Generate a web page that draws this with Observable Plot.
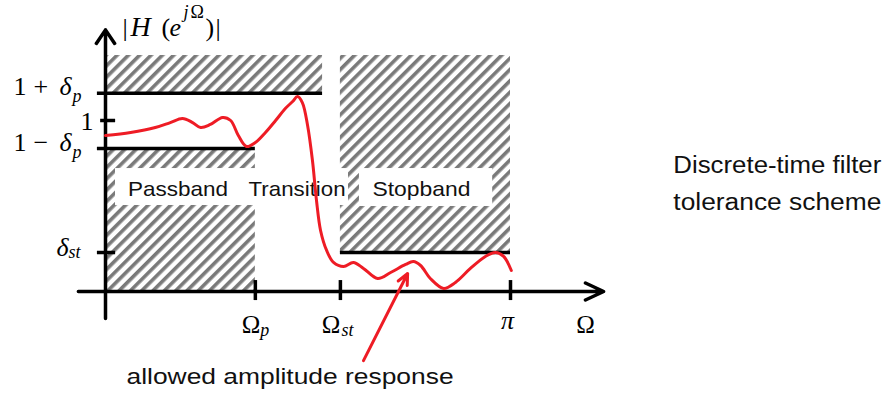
<!DOCTYPE html>
<html><head><meta charset="utf-8">
<script src="https://cdn.jsdelivr.net/npm/d3@7"></script>
<script src="https://cdn.jsdelivr.net/npm/@observablehq/plot@0.6"></script>
<style>html,body{margin:0;padding:0;background:#fff;} #chart{width:888px;height:394px;overflow:hidden}</style>
</head><body><div id="chart"></div>
<script>
// ---- data (Ω expressed as a fraction of π; magnitude |H|) ----
const omega = [0,0.062,0.123,0.160,0.190,0.215,0.235,0.259,0.289,0.309,0.328,0.348,0.370,0.395,0.420,0.444,0.462,0.474,0.486,0.499,0.511,0.521,0.531,0.546,0.563,0.588,0.612,0.637,0.672,0.704,0.741,0.760,0.778,0.802,0.835,0.864,0.901,0.938,0.963,0.983,1.002];
const magnitude = [0.912,0.930,0.959,0.988,1.012,0.988,0.959,0.977,1.018,1.000,0.912,0.848,0.871,0.930,1.000,1.070,1.111,1.140,1.105,0.971,0.766,0.532,0.357,0.240,0.170,0.146,0.170,0.135,0.076,0.111,0.158,0.175,0.152,0.076,0.018,0.053,0.135,0.205,0.228,0.205,0.123];

const omegaP = 0.37, omegaSt = 0.58, omegaPi = 1.0;
const omegaTickValues = [omegaP, omegaSt, omegaPi];
const upperBound = 1.16, unity = 1.0, lowerBound = 0.836, deltaSt = 0.228;
const hatchTop = 1.38, upperBandEnd = 0.536;
const bandLabels = ["Passband", "Transition", "Stopband"];
const bandLabelX = [0.179, 0.473, 0.780];
const titleLines = ["Discrete-time filter", "tolerance scheme"];
const pointerText = "allowed amplitude response";

// ---- derived tables ----
const curve = omega.map((w, i) => ({w, m: magnitude[i]}));
const forbidden = [
  {x1: 0, x2: upperBandEnd, y1: upperBound, y2: hatchTop},
  {x1: 0, x2: omegaP, y1: 0, y2: lowerBound},
  {x1: omegaSt, x2: omegaPi, y1: deltaSt, y2: hatchTop}
];
const boundLines = [
  {y: upperBound, x1: -0.02, x2: upperBandEnd},
  {y: lowerBound, x1: -0.02, x2: omegaP},
  {y: deltaSt, x1: omegaSt, x2: omegaPi},
  {y: deltaSt, x1: -0.02, x2: 0.025},
  {y: unity, x1: -0.012, x2: 0.025}
];

const serif = "Liberation Serif, Times New Roman, serif";
const sans = "Liberation Sans, Arial, sans-serif";
function T(x, y, text, o) {
  return Plot.text([{x, y, text}], {x: "x", y: "y", text: "text", fill: "black", fontFamily: serif, fontSize: 26, textAnchor: "start", ...o});
}
const arrowOpts = {x1: "x1", y1: "y1", x2: "x2", y2: "y2", strokeLinejoin: "miter"};

const hatchDefs = () => {
  const ns = "http://www.w3.org/2000/svg";
  const defs = document.createElementNS(ns, "defs");
  defs.innerHTML = `<pattern id="hatch" patternUnits="userSpaceOnUse" width="8" height="8" patternTransform="rotate(45)"><rect width="8" height="8" fill="#fff"/><rect width="3.6" height="8" fill="#7a7a7a"/></pattern>`;
  return defs;
};

const chart = Plot.plot({
  width: 888, height: 394, margin: 0,
  style: {background: "white", overflow: "visible"},
  x: {domain: [0, 1], range: [105, 510], axis: null},
  y: {domain: [0, 1], range: [291, 120], axis: null},
  marks: [
    hatchDefs,
    Plot.rect(forbidden, {x1: "x1", x2: "x2", y1: "y1", y2: "y2", fill: "url(#hatch)"}),
    Plot.rect([{x1: 0.0247, x2: 0.6, y1: 0.503, y2: 0.719}, {x1: 0.627, x2: 0.956, y1: 0.497, y2: 0.719}],
      {x1: "x1", x2: "x2", y1: "y1", y2: "y2", fill: "white"}),
    // axes
    Plot.arrow([{x1: 0, y1: -0.158, x2: 0, y2: 1.53}], {...arrowOpts, stroke: "black", strokeWidth: 3.5, headLength: 7, headAngle: 68}),
    Plot.arrow([{x1: -0.067, y1: 0, x2: 1.23, y2: 0}], {...arrowOpts, stroke: "black", strokeWidth: 3.5, headLength: 8.6, headAngle: 50}),
    Plot.ruleY(boundLines, {y: "y", x1: "x1", x2: "x2", stroke: "black", strokeWidth: 3.5}),
    Plot.ruleX(omegaTickValues, {x: d => d, y1: -0.053, y2: 0.064, stroke: "black", strokeWidth: 3.5}),
    // y labels
    T(0, upperBound, "1", {dx: -92, dy: -6.3}),
    T(0, upperBound, "+", {dx: -72, dy: -6.3}),
    T(0, upperBound, "δ", {dx: -46, dy: -6.3, fontStyle: "italic"}),
    T(0, upperBound, "p", {dx: -33, dy: 3.2, fontSize: 18, fontStyle: "italic"}),
    T(0, unity, "1", {textAnchor: "end", dx: -12, dy: 1}),
    T(0, lowerBound, "1", {dx: -92, dy: -6.3}),
    T(0, lowerBound, "−", {dx: -72, dy: -6.3}),
    T(0, lowerBound, "δ", {dx: -46, dy: -6.3, fontStyle: "italic"}),
    T(0, lowerBound, "p", {dx: -33, dy: 3.2, fontSize: 18, fontStyle: "italic"}),
    T(0, deltaSt, "δ", {textAnchor: "end", dx: -37, dy: -5.3, fontStyle: "italic"}),
    T(0, deltaSt, "st", {dx: -37, dy: 0.2, fontSize: 18, fontStyle: "italic"}),
    // x labels
    T(omegaP, 0, "Ω", {textAnchor: "end", dx: 5, dy: 33, fontSize: 25}),
    T(omegaP, 0, "p", {dx: 5, dy: 39.2, fontSize: 18, fontStyle: "italic"}),
    T(omegaSt, 0, "Ω", {textAnchor: "end", dx: 0, dy: 33, fontSize: 25}),
    T(omegaSt, 0, "st", {dx: 1, dy: 39.2, fontSize: 18, fontStyle: "italic"}),
    T(omegaPi, 0, "π", {textAnchor: "middle", dx: -3, dy: 28.7, fontStyle: "italic"}),
    T(1.185, 0, "Ω", {textAnchor: "middle", dy: 33, fontSize: 25}),
    // y title |H(e^{jΩ})|
    T(0, 1.52, "|", {dx: 17, dy: -4.3}),
    T(0, 1.52, "H", {dx: 25, dy: -4.3, fontSize: 28, fontStyle: "italic"}),
    T(0, 1.52, "(", {dx: 56, dy: -4.3}),
    T(0, 1.52, "e", {dx: 64, dy: -4.3, fontStyle: "italic"}),
    T(0, 1.52, "j", {dx: 78, dy: -18.9, fontSize: 18, fontStyle: "italic"}),
    T(0, 1.52, "Ω", {dx: 85, dy: -18.9, fontSize: 18}),
    T(0, 1.52, ")", {dx: 100, dy: -4.3}),
    T(0, 1.52, "|", {dx: 110, dy: -4.3}),
    // band labels
    Plot.text(bandLabels, {x: (d, i) => bandLabelX[i], y: 0.595, text: d => d, fontFamily: sans, fontSize: 21, fill: "#111"}),
    // right-hand caption
    T(1.402, 0.739, titleLines[0], {fontFamily: sans, fontSize: 23, fill: "#111"}),
    T(1.402, 0.517, titleLines[1], {fontFamily: sans, fontSize: 23, fill: "#111"}),
    T(0.052, -0.497, pointerText, {fontFamily: sans, fontSize: 22, fill: "#111"}),
    // response curve + pointer
    Plot.line(curve, {x: "w", y: "m", stroke: "#ee1c25", strokeWidth: 3, curve: "catmull-rom"}),
    Plot.arrow([{x1: 0.637, y1: -0.404, x2: 0.746, y2: 0.105}], {...arrowOpts, stroke: "#ee1c25", strokeWidth: 3, headLength: 6, headAngle: 50})
  ]
});

const widths = {"Discrete-time filter": 208, "tolerance scheme": 208, "allowed amplitude response": 327, "Passband": 100, "Transition": 97, "Stopband": 98};
chart.querySelectorAll("text").forEach(t => {
  const w = widths[t.textContent];
  if (w) { t.setAttribute("textLength", w); t.setAttribute("lengthAdjust", "spacingAndGlyphs"); }
});
document.getElementById("chart").appendChild(chart);
</script>
</body></html>
